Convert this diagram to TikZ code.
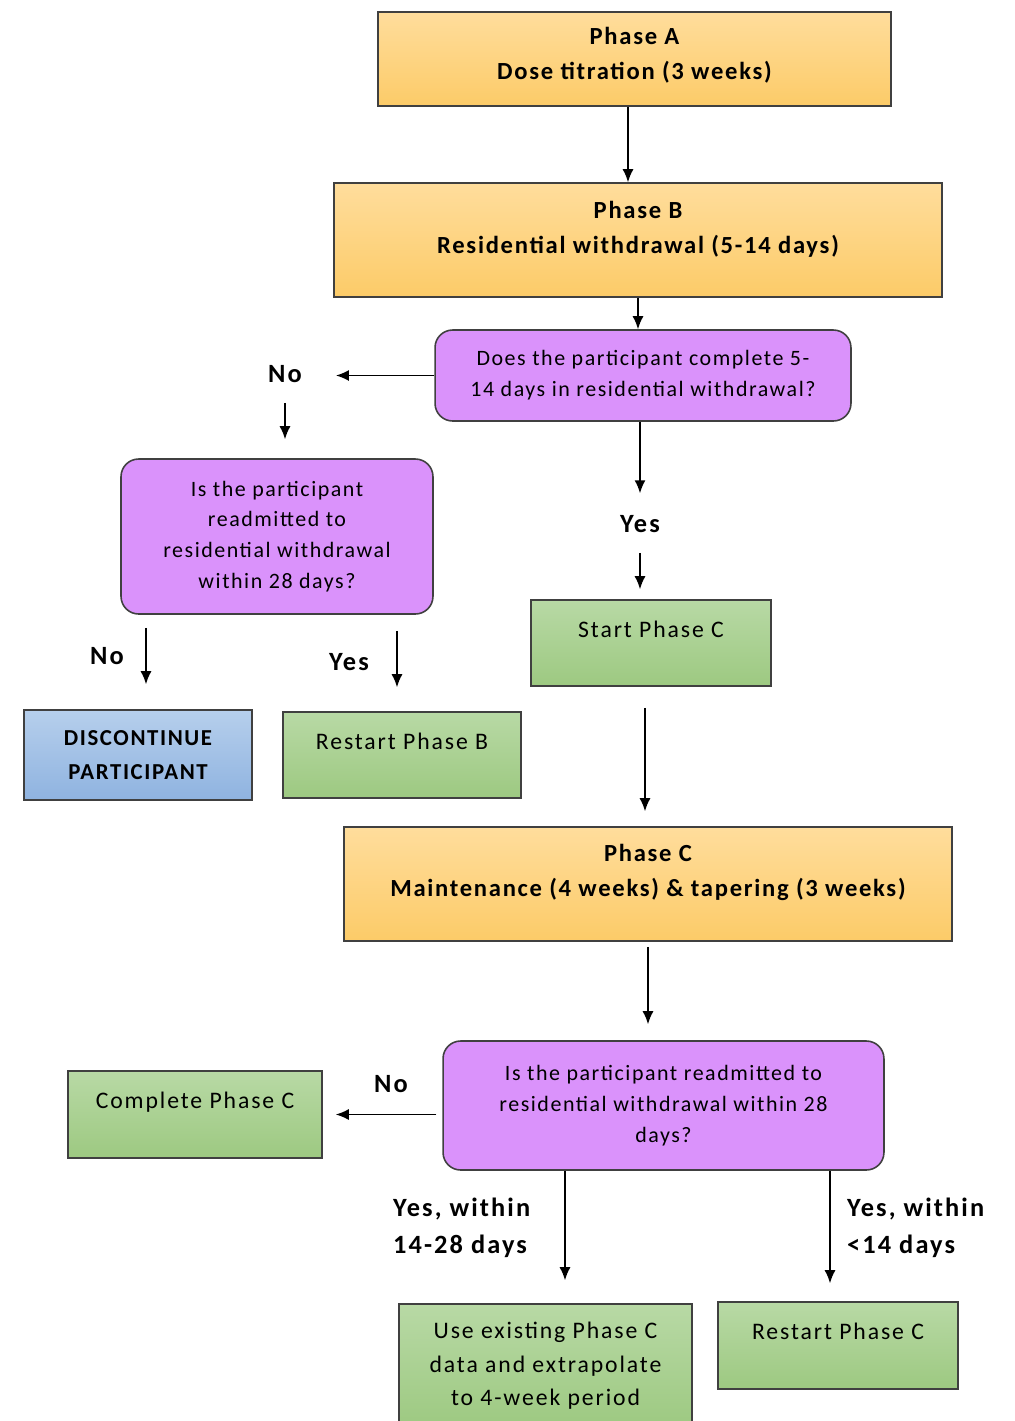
\documentclass[tikz,border=0pt]{standalone}
\usepackage{fontspec}
\setmainfont{Carlito}
\usetikzlibrary{arrows.meta,positioning}

\definecolor{phasetop}{HTML}{FFDD9C}
\definecolor{phasebot}{HTML}{FCCB68}
\definecolor{askfill}{HTML}{DA92FB}
\definecolor{gotop}{HTML}{B8D9A5}
\definecolor{gobot}{HTML}{9DC981}
\definecolor{stoptop}{HTML}{B6CFEC}
\definecolor{stopbot}{HTML}{8FB3E0}

% extra empty line that lifts the text inside a box
\newcommand\liftby[1]{\\[#1]\mbox{}}

\tikzset{
  box/.style={draw=black!75, line width=0.9pt, align=center, inner sep=2pt},
  phasebox/.style={box, top color=phasetop, bottom color=phasebot,
    font=\fontsize{14}{20}\selectfont\bfseries\addfontfeatures{LetterSpace=7}},
  askbox/.style={box, rounded corners=10pt, fill=askfill,
    font=\fontsize{12.5}{17.5}\selectfont\addfontfeatures{LetterSpace=7}},
  gobox/.style={box, top color=gotop, bottom color=gobot,
    font=\fontsize{13.5}{19}\selectfont\addfontfeatures{LetterSpace=8}},
  stopbox/.style={box, top color=stoptop, bottom color=stopbot,
    font=\fontsize{13}{19}\selectfont\bfseries\addfontfeatures{LetterSpace=7}},
  lbl/.style={font=\fontsize{15}{21}\selectfont\bfseries\addfontfeatures{LetterSpace=8},
    inner sep=1pt},
  arr/.style={-{Latex[length=2.6mm,width=2.2mm]}, line width=0.9pt},
}

\begin{document}
\begin{tikzpicture}[x=0.02cm,y=-0.02cm]
\useasboundingbox (0,0) rectangle (1015,1421);

% phases A and B
\node[phasebox, minimum width=10.26cm, minimum height=1.88cm] (phaseA) at (634.5,59)
  {Phase A\\Dose titration (3 weeks)\liftby{-13.5pt}};
\node[phasebox, minimum width=12.16cm, minimum height=2.28cm] (phaseB) at (638,240)
  {Phase B\\Residential withdrawal (5-14 days)\liftby{-6pt}};

% first question
\node[askbox, minimum width=8.32cm, minimum height=1.82cm] (askOne) at (643,375.5)
  {Does the participant complete 5-\\14 days in residential withdrawal?};
\node[lbl] (noOne) at (285,374) {No};
\node[lbl] (yesOne) at (640,524) {Yes};

% readmission after phase B
\node[askbox, minimum width=6.24cm, minimum height=3.1cm] (askTwo) at (277,536.5)
  {Is the participant\\readmitted to\\residential withdrawal\\within 28 days?};
\node[gobox, minimum width=4.8cm, minimum height=1.72cm] (startC) at (651,643)
  {Start Phase C\liftby{-3pt}};
\node[lbl] (noTwo) at (107,656) {No};
\node[lbl] (yesTwo) at (349,662) {Yes};
\node[stopbox, minimum width=4.56cm, minimum height=1.8cm] (discontinue) at (138,755)
  {DISCONTINUE\\PARTICIPANT};
\node[gobox, minimum width=4.76cm, minimum height=1.72cm] (restartB) at (402,755)
  {Restart Phase B\liftby{-3pt}};

% phase C
\node[phasebox, minimum width=12.16cm, minimum height=2.28cm] (phaseC) at (648,884)
  {Phase C\\Maintenance (4 weeks) \& tapering (3 weeks)\liftby{-4.5pt}};

% readmission during phase C
\node[askbox, minimum width=8.82cm, minimum height=2.58cm] (askThree) at (663.5,1105.5)
  {Is the participant readmitted to\\residential withdrawal within 28\\days?};
\node[gobox, minimum width=5.08cm, minimum height=1.74cm] (completeC) at (195,1114.5)
  {Complete Phase C\liftby{-3pt}};
\node[lbl] (noThree) at (391,1084) {No};
\node[lbl, anchor=west, align=left] (yesLate) at (391,1228) {Yes, within\\14-28 days};
\node[lbl, anchor=west, align=left] (yesEarly) at (845,1228) {Yes, within\\<14 days};
\node[gobox, minimum width=5.86cm, minimum height=2.48cm] (useData) at (545.5,1366)
  {Use existing Phase C\\data and extrapolate\\to 4-week period};
\node[gobox, minimum width=4.8cm, minimum height=1.74cm] (restartC) at (838,1345.5)
  {Restart Phase C\liftby{-3pt}};

% connectors
\draw[arr] ([xshift=-0.13cm]phaseA.south) -- ([xshift=-0.13cm]phaseA.south |- phaseB.north);
\draw[arr] (phaseB.south) -- (phaseB.south |- askOne.north);
\draw[arr, shorten >=0.64cm] (askOne.west) -- (noOne.east |- askOne.west);
\draw[arr, shorten <=0.36cm, shorten >=0.38cm] (noOne.south) -- (noOne.south |- askTwo.north);
\draw[arr, shorten >=0.4cm] (askOne.south -| yesOne) -- (yesOne.north);
\draw[arr, shorten <=0.36cm, shorten >=0.2cm] (yesOne.south) -- (yesOne.south |- startC.north);
\draw[arr, shorten <=0.26cm, shorten >=0.5cm] ([xshift=0.16cm]discontinue.north |- askTwo.south)
  -- ([xshift=0.16cm]discontinue.north);
\draw[arr, shorten <=0.32cm, shorten >=0.48cm] ([xshift=-0.1cm]restartB.north |- askTwo.south)
  -- ([xshift=-0.1cm]restartB.north);
\draw[arr, shorten <=0.42cm, shorten >=0.3cm] ([xshift=-0.12cm]startC.south)
  -- ([xshift=-0.12cm]startC.south |- phaseC.north);
\draw[arr, shorten <=0.1cm, shorten >=0.32cm] (phaseC.south) -- (phaseC.south |- askThree.north);
\draw[arr, shorten <=0.12cm, shorten >=0.26cm] (askThree.west |- completeC) -- (completeC.east);
\draw[arr, shorten >=0.46cm] ([xshift=0.39cm]useData.north |- askThree.south)
  -- ([xshift=0.39cm]useData.north);
\draw[arr, shorten >=0.36cm] ([xshift=-0.16cm]restartC.north |- askThree.south)
  -- ([xshift=-0.16cm]restartC.north);

\end{tikzpicture}
\end{document}
